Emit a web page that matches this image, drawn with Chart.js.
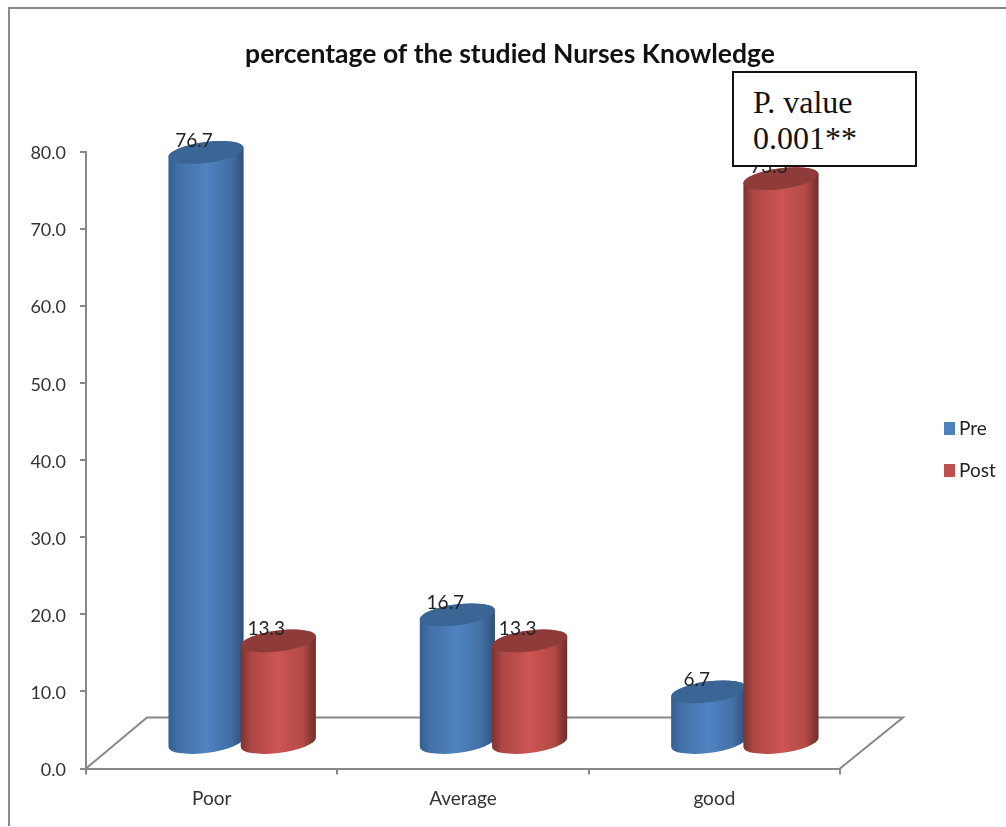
<!DOCTYPE html>
<html>
<head>
<meta charset="utf-8">
<title>percentage of the studied Nurses Knowledge</title>
<script src="https://cdn.jsdelivr.net/npm/chart.js@4/dist/chart.umd.min.js"></script>
<style>
    html, body { margin: 0; padding: 0; background: #fff; overflow: hidden; }
    #page { position: relative; width: 1006px; height: 827px; }
    #frame { position: absolute; left: 8px; top: 7px; right: 0; bottom: 1px;
             border-left: 2.5px solid #888; border-top: 2.5px solid #888; }
    #chart { position: absolute; left: 0; top: 0; }
    #pvalue { position: absolute; left: 732px; top: 71px; width: 185px; height: 96px;
              box-sizing: border-box; border: 2px solid #111; background: #fff;
              padding: 11px 0 0 19px; color: #111;
              font: 32px/36px "Liberation Serif", serif; }
</style>
</head>
<body>
<div id="page">
    <div id="frame"></div>
    <canvas id="chart" width="1006" height="827"></canvas>
    <div id="pvalue">P. value<br>0.001**</div>
</div>
<script>
const categories = ['Poor', 'Average', 'good'];
const preValues = [76.7, 16.7, 6.7];
const postValues = [13.3, 13.3, 73.3];

const axisGrey = '#888888';
const labelFont = '"Lato", "Noto Sans", sans-serif';

// Colours for the cylinder shading, one set per series
const shades = {
    Pre: {
        top: '#3a6594',
        stops: [[0, '#33608f'], [0.14, '#4471a8'], [0.5, '#4f83c2'], [0.82, '#4370a6'], [1, '#2e4f78']]
    },
    Post: {
        top: '#8f3b39',
        stops: [[0, '#7c3330'], [0.14, '#ae4745'], [0.5, '#cd5552'], [0.82, '#b44a47'], [1, '#6f2d2b']]
    }
};

// Oblique offset of the bars into the chart floor
const depthX = 30.5;
const depthY = -25;

// Trace a slanted ellipse, from startAngle to endAngle, around (cx, cy)
function traceEllipse(ctx, cx, cy, rx, startAngle, endAngle) {
    ctx.save();
    ctx.transform(rx, -rx * 0.12, 0, 10.5, cx, cy);
    ctx.arc(0, 0, 1, startAngle, endAngle);
    ctx.restore();
}

function drawCylinder(ctx, bar, shade) {
    const cx = bar.x + depthX;
    const rx = bar.width / 2;
    const topY = bar.y + depthY;
    const baseY = bar.base + depthY;

    const gradient = ctx.createLinearGradient(cx - rx, 0, cx + rx, 0);
    shade.stops.forEach(stop => gradient.addColorStop(stop[0], stop[1]));

    // Side wall: the front half of the base plus the top edge
    ctx.beginPath();
    traceEllipse(ctx, cx, baseY, rx, 0, Math.PI);
    traceEllipse(ctx, cx, topY, rx, Math.PI, 0, false);
    ctx.closePath();
    ctx.fillStyle = gradient;
    ctx.fill();

    // Top cap
    ctx.beginPath();
    traceEllipse(ctx, cx, topY, rx, 0, Math.PI * 2);
    ctx.closePath();
    ctx.fillStyle = shade.top;
    ctx.fill();
}

// Floor, cylinders and value labels replace the default bar drawing
const cylinderBars = {
    id: 'cylinderBars',
    beforeDatasetsDraw(chart) {
        const ctx = chart.ctx;
        const area = chart.chartArea;

        ctx.save();
        ctx.beginPath();
        ctx.moveTo(area.left, area.bottom);
        ctx.lineTo(area.left + 61, area.bottom - 51);
        ctx.lineTo(area.right + 63, area.bottom - 51);
        ctx.lineTo(area.right, area.bottom);
        ctx.strokeStyle = axisGrey;
        ctx.lineWidth = 2;
        ctx.stroke();

        const metas = chart.data.datasets.map((ds, i) => chart.getDatasetMeta(i));
        categories.forEach((cat, index) => {
            metas.forEach((meta, i) => {
                drawCylinder(ctx, meta.data[index], shades[chart.data.datasets[i].label]);
            });
        });

        ctx.font = '19px ' + labelFont;
        ctx.fillStyle = '#222';
        ctx.textAlign = 'center';
        ctx.textBaseline = 'middle';
        metas.forEach((meta, i) => {
            meta.data.forEach((bar, index) => {
                const value = chart.data.datasets[i].data[index];
                ctx.fillText(value.toFixed(1), bar.x + depthX - 12, bar.y + depthY - 12);
            });
        });
        ctx.restore();
        return false;
    }
};

// Series key on the right, well clear of the plot
const seriesKey = {
    id: 'seriesKey',
    afterDraw(chart) {
        const ctx = chart.ctx;
        ctx.save();
        ctx.font = '19px ' + labelFont;
        ctx.textAlign = 'left';
        ctx.textBaseline = 'middle';
        chart.data.datasets.forEach((ds, i) => {
            const y = 428.5 + i * 42;
            ctx.fillStyle = ds.backgroundColor;
            ctx.fillRect(944, y - 6.5, 11, 13);
            ctx.fillStyle = '#222';
            ctx.fillText(ds.label, 959, y);
        });
        ctx.restore();
    }
};

// The title is centred over the plot and key together
const placeTitle = {
    id: 'placeTitle',
    afterLayout(chart) {
        const block = chart.titleBlock;
        const shift = 510 - (block.left + block.right) / 2;
        block.left += shift;
        block.right += shift;
    }
};

new Chart(document.getElementById('chart'), {
    type: 'bar',
    plugins: [cylinderBars, seriesKey, placeTitle],
    data: {
        labels: categories,
        datasets: [
            { label: 'Pre', data: preValues, backgroundColor: '#4f81bd' },
            { label: 'Post', data: postValues, backgroundColor: '#c0504d' }
        ]
    },
    options: {
        responsive: false,
        animation: false,
        categoryPercentage: 0.575,
        barPercentage: 1.04,
        layout: { padding: { left: 0, right: 166, top: 39, bottom: 13.5 } },
        plugins: {
            title: {
                display: true,
                text: 'percentage of the studied Nurses Knowledge',
                color: '#111',
                font: { family: labelFont, size: 26.5, weight: 'bold' },
                padding: { top: 0, bottom: 81.2 }
            },
            legend: { display: false },
            tooltip: { enabled: false }
        },
        scales: {
            x: {
                afterFit(scale) { scale.height = 45; },
                border: { color: axisGrey, width: 2 },
                grid: { color: axisGrey, lineWidth: 2, drawOnChartArea: false, tickLength: 6 },
                ticks: { color: '#333', padding: 13, font: { family: labelFont, size: 19 } }
            },
            y: {
                min: 0,
                max: 80,
                afterFit(scale) { scale.width = 86; },
                border: { color: axisGrey, width: 2 },
                grid: { color: axisGrey, lineWidth: 2, drawOnChartArea: false, tickLength: 6 },
                ticks: {
                    stepSize: 10,
                    color: '#333',
                    padding: 14,
                    labelOffset: 1.5,
                    font: { family: labelFont, size: 18 },
                    callback: value => value.toFixed(1)
                }
            }
        }
    }
});
</script>
</body>
</html>
